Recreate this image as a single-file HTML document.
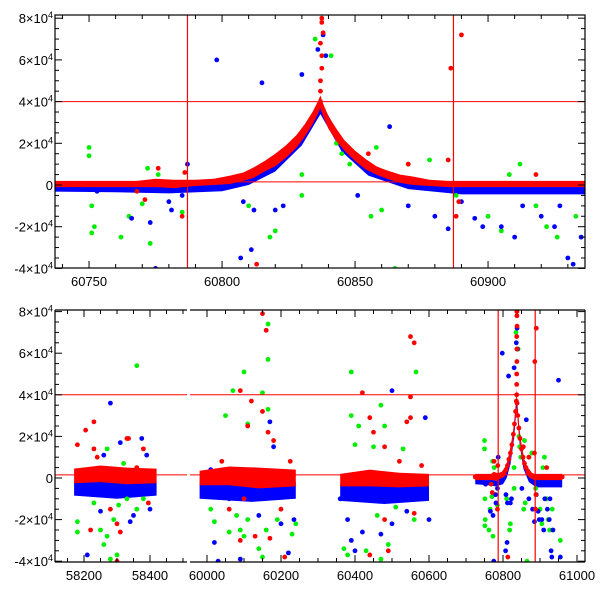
<!DOCTYPE html>
<html><head><meta charset="utf-8"><style>
html,body{margin:0;padding:0;background:#fff}
svg{display:block;font-family:"Liberation Sans",sans-serif}
</style></head><body>
<svg id="c" width="600" height="600" viewBox="0 0 600 600">
<defs>
<clipPath id="clipTop"><rect x="55" y="15" width="530" height="253"/></clipPath>
<clipPath id="clipBL"><rect x="55" y="310" width="132" height="252"/></clipPath>
<clipPath id="clipBR"><rect x="190" y="310" width="395" height="252"/></clipPath>
</defs>
</svg>
<script>
// ---- data (flux in units of 1e4) ----
const redCore=[[60725,0.05,0.15],[60738,0.05,0.15],[60745,0.05,0.15],[60752,0.05,0.15],[60760,0.05,0.15],[60768,0.05,0.15],[60775,0.1,0.2],[60782,0.05,0.2],[60790,0.1,0.15],[60797,0.15,0.15],[60803,0.25,0.2],[60808,0.4,0.2],[60812,0.6,0.25],[60816,0.9,0.25],[60820,1.2,0.3],[60824,1.6,0.3],[60828,2.1,0.3],[60831,2.6,0.3],[60834,3.2,0.3],[60836,3.7,0.3],[60837,4.0,0.3],[60838,3.6,0.3],[60840,3.0,0.3],[60843,2.4,0.3],[60846,1.9,0.25],[60850,1.4,0.25],[60854,1.0,0.25],[60858,0.7,0.2],[60862,0.5,0.2],[60867,0.3,0.2],[60872,0.2,0.2],[60878,0.1,0.15],[60885,0.05,0.15],[60892,0.05,0.15],[60900,0.05,0.15],[60908,0.05,0.15],[60915,0.05,0.15],[60922,0.05,0.15],[60930,0.05,0.15],[60936,0.05,0.15],[60960,0.05,0.15]];
const redSpike=[[60837,4.5],[60837,5.0],[60837.5,5.6],[60837.5,6.2],[60837,6.8],[60838,7.3],[60837.5,7.8],[60837.5,8.0]];
const blueCore=[[60725,-0.15,0.15],[60760,-0.2,0.15],[60780,-0.2,0.2],[60800,-0.1,0.2],[60810,0.2,0.2],[60820,0.9,0.25],[60830,2.2,0.3],[60837,3.7,0.3],[60845,1.9,0.3],[60855,0.7,0.25],[60870,0.0,0.2],[60890,-0.25,0.2],[60910,-0.25,0.2],[60936,-0.25,0.2],[60960,-0.25,0.2]];
const blueOut=[[60753,-0.3],[60766,-1.6],[60773,-1.8],[60780,-0.8],[60781,-1.2],[60785,-0.5],[60787,1.0],[60775,-4.0],[60798,6.0],[60807,-3.5],[60811,-3.1],[60815,4.9],[60812,-1.2],[60823,-1.0],[60830,5.3],[60838,7.2],[60836,6.5],[60839,6.2],[60863,2.8],[60870,-1.0],[60880,-1.5],[60885,-2.1],[60890,-0.8],[60898,-2.0],[60905,-2.0],[60910,-2.5],[60913,-1.0],[60920,-1.5],[60925,-2.0],[60930,-3.5],[60932,-3.8],[60935,-2.5],[60820,-1.2],[60808,-0.8],[60851,-0.5],[60895,-1.6],[60927,-1.0],[60950,4.7],[60955,-3.8],
[58280,3.6],[58310,1.7],[58350,-1.8],[58375,1.9],[58390,1.1],[58210,-3.7],[58250,-1.6],[58340,-2.1],[58400,-1.5],[58260,1.1],
[60020,-3.1],[60030,-4.0],[60090,-3.9],[60170,2.7],[60180,1.5],[60200,-2.2],[60220,-3.6],[60235,-2.0],[60010,0.4],[60060,-1.0],[60140,-1.8],
[60500,4.2],[60590,2.9],[60380,-2.0],[60390,-3.0],[60400,-3.5],[60420,-2.6],[60470,-2.7],[60500,-2.2],[60540,-1.6],[60600,-2.0],[60360,-1.0]];
const greenOut=[[60750,1.8],[60750,1.4],[60751,-1.0],[60751,-2.3],[60752,-2.0],[60762,-2.5],[60765,-1.5],[60770,-0.9],[60773,-2.8],[60772,0.8],[60776,0.5],[60785,-1.3],[60810,-1.0],[60818,-2.5],[60820,-2.2],[60843,2.0],[60845,1.5],[60848,1.0],[60830,-0.5],[60835,7.0],[60841,6.2],[60856,-1.5],[60860,-1.2],[60865,-4.0],[60870,1.0],[60878,1.2],[60888,-0.5],[60900,-1.5],[60905,-2.2],[60918,-1.0],[60922,-2.0],[60926,-2.5],[60933,-1.5],[60912,1.0],[60908,0.5],[60830,0.5],[60858,1.8],[60955,-3.0],
[58180,-2.1],[58180,-2.6],[58250,-2.5],[58260,-3.2],[58270,-2.8],[58280,-3.9],[58290,-2.0],[58305,-1.3],[58330,-1.0],[58360,5.4],[58360,-1.5],[58380,-1.0],[58230,-1.2],[58300,-3.7],[58270,1.4],[58320,0.7],
[60010,-1.5],[60020,-2.1],[60050,3.0],[60070,4.2],[60100,5.1],[60150,4.1],[60165,7.4],[60165,5.7],[60165,3.3],[60110,2.6],[60080,-1.8],[60090,-2.5],[60100,-2.8],[60110,-2.0],[60140,-3.4],[60150,-3.8],[60160,-2.5],[60190,-2.0],[60230,-2.7],[60240,-2.2],[60060,-2.6],
[60390,5.1],[60390,3.0],[60410,2.5],[60470,3.5],[60480,2.5],[60400,1.6],[60450,1.5],[60370,-3.4],[60380,-3.7],[60430,-3.5],[60470,-3.9],[60490,-3.2],[60510,-1.4],[60560,-2.0],[60565,5.1],[60530,1.4],[60460,-1.8]];
const redOut=[[60771,-0.7],[60768,-0.3],[60776,0.8],[60785,-1.5],[60786,0.6],[60813,-3.8],[60855,1.5],[60870,1.0],[60886,5.6],[60885,1.2],[60888,-1.5],[60889,-0.8],[60918,0.5],[60890,7.2],
[58180,1.6],[58205,2.3],[58230,2.7],[58230,1.4],[58240,1.0],[58280,-1.5],[58300,-2.2],[58310,-2.6],[58330,1.9],[58335,1.9],[58360,0.5],[58380,1.4],[58395,-1.2],[58300,-4.0],[58220,-2.5],
[60040,0.8],[60090,4.2],[60110,2.5],[60120,3.7],[60150,7.9],[60160,7.1],[60150,3.2],[60165,2.2],[60180,1.8],[60200,-1.5],[60090,-3.0],[60130,-2.8],[60170,-2.9],[60210,-3.8],[60060,-1.5],[60100,-1.0],[60225,0.8],
[60420,4.1],[60440,2.9],[60450,2.2],[60480,1.5],[60440,-3.7],[60490,-3.5],[60480,-2.0],[60550,6.8],[60560,6.5],[60550,3.9],[60550,2.9],[60540,2.7],[60520,0.8],[60580,0.6],[60560,-1.7]];
// earlier seasons: core bands [t, flux, halfspread]
const redSeasons=[[[58170,0.1,0.35],[58250,0.2,0.4],[58330,0.1,0.4],[58420,0.1,0.35]],[[59980,0,0.35],[60060,0.1,0.45],[60140,0,0.5],[60240,0,0.4]],[[60360,-0.1,0.3],[60440,0,0.4],[60520,-0.1,0.35],[60600,-0.1,0.3]]];
const blueSeasons=[[[58170,-0.5,0.35],[58300,-0.6,0.4],[58420,-0.5,0.35]],[[59980,-0.6,0.4],[60120,-0.7,0.45],[60240,-0.6,0.4]],[[60360,-0.7,0.4],[60480,-0.8,0.45],[60600,-0.7,0.4]]];
const yTicks=[-4,-2,0,2,4,6,8];
const yLabels=["-4×10","-2×10","0","2×10","4×10","6×10","8×10"];
const topXTicks=[60750,60800,60850,60900];
const blXTicks=[58200,58400];
const brXTicks=[60000,60200,60400,60600,60800,61000];
const hLines=[4,0.15];
const vLines=[60787,60887];

const NS="http://www.w3.org/2000/svg";
const svg=document.getElementById('c');
function mk(tag,attrs,parent){const e=document.createElementNS(NS,tag);for(const k in attrs)e.setAttribute(k,attrs[k]);(parent||svg).appendChild(e);return e;}
const RED="#ff0000",BLUE="#0000ff",GREEN="#00ee00";

// axis functions
const topX=t=>55+(t-60737.2)*2.66, topY=f=>185-f*20.85;
const blX=t=>84+(t-58200)*0.33, brX=t=>207+(t-60000)*0.37, botY=f=>478-f*20.8;

function band(g,arr,X,Y,color,name){
  let up=arr.map(d=>X(d[0])+','+Y(d[1]+d[2])), lo=arr.slice().reverse().map(d=>X(d[0])+','+Y(d[1]-d[2]));
  const p=mk('polygon',{points:up.concat(lo).join(' '),fill:color},g);
  
  
}
function dots(g,arr,X,Y,color,name){
  arr.forEach(d=>{const c=mk('circle',{cx:X(d[0]),cy:Y(d[1]),r:2.4,fill:color},g);
    
    });
}
function series(g,X,Y,withSeasons){
  if(withSeasons){blueSeasons.forEach(s=>band(g,s,X,Y,BLUE,'blue-season-band'));}
  band(g,blueCore,X,Y,BLUE,'blue-core-band');
  dots(g,greenOut,X,Y,GREEN,'green-point');
  dots(g,blueOut,X,Y,BLUE,'blue-point');
  if(withSeasons){redSeasons.forEach(s=>band(g,s,X,Y,RED,'red-season-band'));}
  band(g,redCore,X,Y,RED,'red-core-band');
  dots(g,redCore,X,Y,RED,'red-core-point');
  dots(g,redSpike,X,Y,RED,'red-peak-point');
  dots(g,redOut,X,Y,RED,'red-point');
}
function refLines(g,X,Y,x0,x1,y0,y1){
  hLines.forEach(v=>{const l=mk('line',{x1:x0,x2:x1,y1:Y(v),y2:Y(v),stroke:RED,'stroke-width':1},g);
    });
  vLines.forEach(v=>{const l=mk('line',{x1:X(v),x2:X(v),y1:y0,y2:y1,stroke:RED,'stroke-width':1.2},g);
    });
}
function yAxis(Y,x0,x1,y0,y1,name){
  const g=mk('g',{});  
  for(let v=-4;v<=8;v+=0.5){const y=Y(v);const L=(Math.abs(v%2)<1e-9)?7:4;
    mk('line',{x1:x0,x2:x0+L,y1:y,y2:y,stroke:'#000'},g);mk('line',{x1:x1,x2:x1-L,y1:y,y2:y,stroke:'#000'},g);}
  yTicks.forEach((v,i)=>{const t=mk('text',{x:x0-2,y:Y(v)+5,'text-anchor':'end','font-size':13},g);
    t.textContent=yLabels[i];
    if(v!==0){const s=mk('tspan',{'font-size':9,dy:-5},t);s.textContent='4';}
    });
}
function xAxis(X,ticks,minorStep,tmin,tmax,y0,y1,name){
  const g=mk('g',{});  
  for(let t=Math.ceil(tmin/minorStep)*minorStep;t<=tmax;t+=minorStep){const x=X(t);
    const L=ticks.includes(t)?7:4;
    mk('line',{x1:x,x2:x,y1:y1,y2:y1-L,stroke:'#000'},g);mk('line',{x1:x,x2:x,y1:y0,y2:y0+L,stroke:'#000'},g);}
  ticks.forEach(t=>{const e=mk('text',{x:X(t),y:y1+18,'text-anchor':'middle','font-size':13},g);e.textContent=t;
    });
}

// top panel
const gT=mk('g',{'clip-path':'url(#clipTop)'});
series(gT,topX,topY,false);
refLines(gT,topX,topY,55,585,15,268);
xAxis(topX,topXTicks,10,60738,60936,15,268,'top-x-axis');
yAxis(topY,55,585,15,268,'top-y-axis');
const fT=mk('rect',{x:55,y:15,width:530,height:253,fill:'none',stroke:'#000','stroke-width':1.2});


// bottom panel
const gBL=mk('g',{'clip-path':'url(#clipBL)'});
series(gBL,blX,botY,true);
refLines(gBL,blX,botY,55,187,310,562);
const gBR=mk('g',{'clip-path':'url(#clipBR)'});
series(gBR,brX,botY,true);
refLines(gBR,brX,botY,190,585,310,562);
xAxis(blX,blXTicks,50,58120,58500,310,562,'bottom-left-x-axis');
xAxis(brX,brXTicks,50,59960,61020,310,562,'bottom-right-x-axis');
yAxis(botY,55,585,310,562,'bottom-y-axis');
[[55,187],[190,585]].forEach(s=>{
  [310,562].forEach(y=>{const l=mk('line',{x1:s[0],x2:s[1],y1:y,y2:y,stroke:'#000','stroke-width':1.2});
    });
});
[55,585].forEach(x=>{const l=mk('line',{x1:x,x2:x,y1:310,y2:562,stroke:'#000','stroke-width':1.2});
  });
const gap=mk('rect',{x:187.5,y:300,width:2,height:275,fill:'#fff'});

</script>
</body></html>
